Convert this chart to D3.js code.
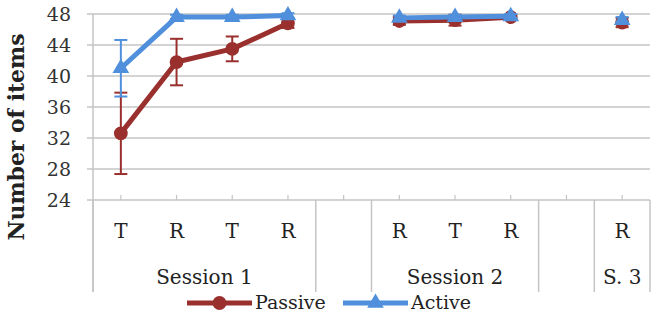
<!DOCTYPE html>
<html>
<head>
<meta charset="utf-8">
<script src="https://cdn.jsdelivr.net/npm/d3@7"></script>
<style>
  body { margin: 0; background: #fff; }
  svg { display: block; font-family: "DejaVu Serif", serif; }
</style>
</head>
<body>
<svg id="chart" width="651" height="314"></svg>
<script>
// categories on the two-level axis
var categories = ["T", "R", "T", "R", "", "R", "T", "R", "", "R"];
var groupNames = ["Session 1", "", "Session 2", "", "S. 3"];
var groupSizes = [4, 1, 3, 1, 1];
var yTicks = [24, 28, 32, 36, 40, 44, 48];

// series (null = no value at that slot)
var passive    = [32.6, 41.8, 43.5, 46.8, null, 47.1, 47.2, 47.6, null, 46.9];
var passiveErr = [5.25, 3.0, 1.6, 0.6, null, 0.5, 0.7, 0.3, null, 0.6];
var active     = [41.0, 47.6, 47.6, 47.8, null, 47.5, 47.6, 47.7, null, 47.2];
var activeErr  = [3.65, 0.3, 0.3, 0.3, null, 0.3, 0.3, 0.3, null, 0.4];

var red = "#9a302d", blue = "#4f8fdc", grid = "#c4c4c4";

// note: "top" is reserved on window, so use plot* names
var svg = d3.select("#chart"),
    plotLeft = 93, plotRight = 650, plotTop = 14, plotBottom = 200, axisBottom = 292;

var x = d3.scaleBand().domain(d3.range(categories.length)).range([plotLeft, plotRight]),
    y = d3.scaleLinear().domain([24, 48]).range([plotBottom, plotTop]);
var cx = function(i) { return x(i) + x.bandwidth() / 2; };

// gridlines
svg.append("g").selectAll("line")
    .data(yTicks).join("line")
    .attr("x1", plotLeft - 6).attr("x2", plotRight)
    .attr("y1", function(d) { return y(d); })
    .attr("y2", function(d) { return y(d); })
    .attr("stroke", grid).attr("stroke-width", 1.5);

// y axis labels
var yAxis = svg.append("g")
    .attr("transform", "translate(" + plotLeft + ",0)")
    .call(d3.axisLeft(y).tickValues(yTicks).tickSize(0).tickPadding(22));
yAxis.select(".domain").remove();
yAxis.selectAll("text")
    .attr("font-family", "DejaVu Serif").attr("font-size", 19).attr("fill", "#333");

svg.append("line")
    .attr("x1", plotLeft).attr("x2", plotLeft).attr("y1", plotTop).attr("y2", axisBottom)
    .attr("stroke", grid).attr("stroke-width", 1.5);

svg.append("text")
    .attr("transform", "translate(23.5,137) rotate(-90)")
    .attr("text-anchor", "middle")
    .attr("font-family", "DejaVu Serif").attr("font-weight", "bold")
    .attr("font-size", 22).attr("fill", "#222")
    .attr("textLength", 207).attr("lengthAdjust", "spacingAndGlyphs")
    .text("Number of items");

// small ticks at category centers
svg.append("g").selectAll("line")
    .data(categories).join("line")
    .attr("x1", function(d, i) { return cx(i); })
    .attr("x2", function(d, i) { return cx(i); })
    .attr("y1", plotBottom - 5).attr("y2", plotBottom)
    .attr("stroke", grid).attr("stroke-width", 1.2);

// category labels
svg.append("g").selectAll("text")
    .data(categories).join("text")
    .attr("x", function(d, i) { return cx(i); })
    .attr("y", 238)
    .attr("text-anchor", "middle")
    .attr("font-size", 20).attr("fill", "#222")
    .text(function(d) { return d; });

// group dividers + group labels
var starts = [0];
groupSizes.forEach(function(s, i) { starts.push(starts[i] + s); });
svg.append("g").selectAll("line")
    .data(starts).join("line")
    .attr("x1", function(d) { return d < categories.length ? x(d) : plotRight; })
    .attr("x2", function(d) { return d < categories.length ? x(d) : plotRight; })
    .attr("y1", plotBottom).attr("y2", axisBottom)
    .attr("stroke", grid).attr("stroke-width", 1.5);

svg.append("g").selectAll("text")
    .data(groupNames).join("text")
    .attr("x", function(d, i) {
        return x(starts[i]) + groupSizes[i] * x.step() / 2;
    })
    .attr("y", 284)
    .attr("text-anchor", "middle")
    .attr("font-size", 20).attr("fill", "#222")
    .text(function(d) { return d; });

// series drawing
function drawSeries(vals, errs, color, marker) {
    var g = svg.append("g");
    var line = d3.line()
        .defined(function(d) { return d != null; })
        .x(function(d, i) { return cx(i); })
        .y(function(d) { return y(d); });

    g.append("path").datum(vals)
        .attr("d", line).attr("fill", "none")
        .attr("stroke", color).attr("stroke-width", 5)
        .attr("stroke-linejoin", "round");

    var pts = vals.map(function(v, i) { return {i: i, v: v, e: errs[i]}; })
        .filter(function(d) { return d.v != null; });

    var eb = g.append("g").selectAll("g").data(pts).join("g")
        .attr("stroke", color).attr("stroke-width", 2);
    eb.append("line")
        .attr("x1", function(d) { return cx(d.i); }).attr("x2", function(d) { return cx(d.i); })
        .attr("y1", function(d) { return y(d.v - d.e); })
        .attr("y2", function(d) { return y(d.v + d.e); });
    [-1, 1].forEach(function(s) {
        eb.append("line")
            .attr("x1", function(d) { return cx(d.i) - 6.5; })
            .attr("x2", function(d) { return cx(d.i) + 6.5; })
            .attr("y1", function(d) { return y(d.v + s * d.e); })
            .attr("y2", function(d) { return y(d.v + s * d.e); });
    });

    g.append("g").selectAll("path").data(pts).join("path")
        .attr("d", d3.symbol().type(marker).size(marker === d3.symbolCircle ? 150 : 120))
        .attr("transform", function(d) { return "translate(" + cx(d.i) + "," + y(d.v) + ")"; })
        .attr("fill", color);
}

drawSeries(passive, passiveErr, red, d3.symbolCircle);
drawSeries(active, activeErr, blue, d3.symbolTriangle);

// legend (sits on the bottom edge, as in the original)
var legend = [
    {name: "Passive", color: red, marker: d3.symbolCircle, x: 187},
    {name: "Active", color: blue, marker: d3.symbolTriangle, x: 343}
];
var lg = svg.append("g").selectAll("g").data(legend).join("g")
    .attr("transform", function(d) { return "translate(" + d.x + ",303)"; });
lg.append("line").attr("x1", 0).attr("x2", 65)
    .attr("stroke", function(d) { return d.color; }).attr("stroke-width", 5);
lg.append("path")
    .attr("d", function(d) { return d3.symbol().type(d.marker).size(d.marker === d3.symbolCircle ? 150 : 120)(); })
    .attr("transform", "translate(32.5,0)")
    .attr("fill", function(d) { return d.color; });
lg.append("text").attr("x", 68).attr("y", 6)
    .attr("font-size", 19).attr("fill", "#222")
    .text(function(d) { return d.name; });
</script>
</body>
</html>
